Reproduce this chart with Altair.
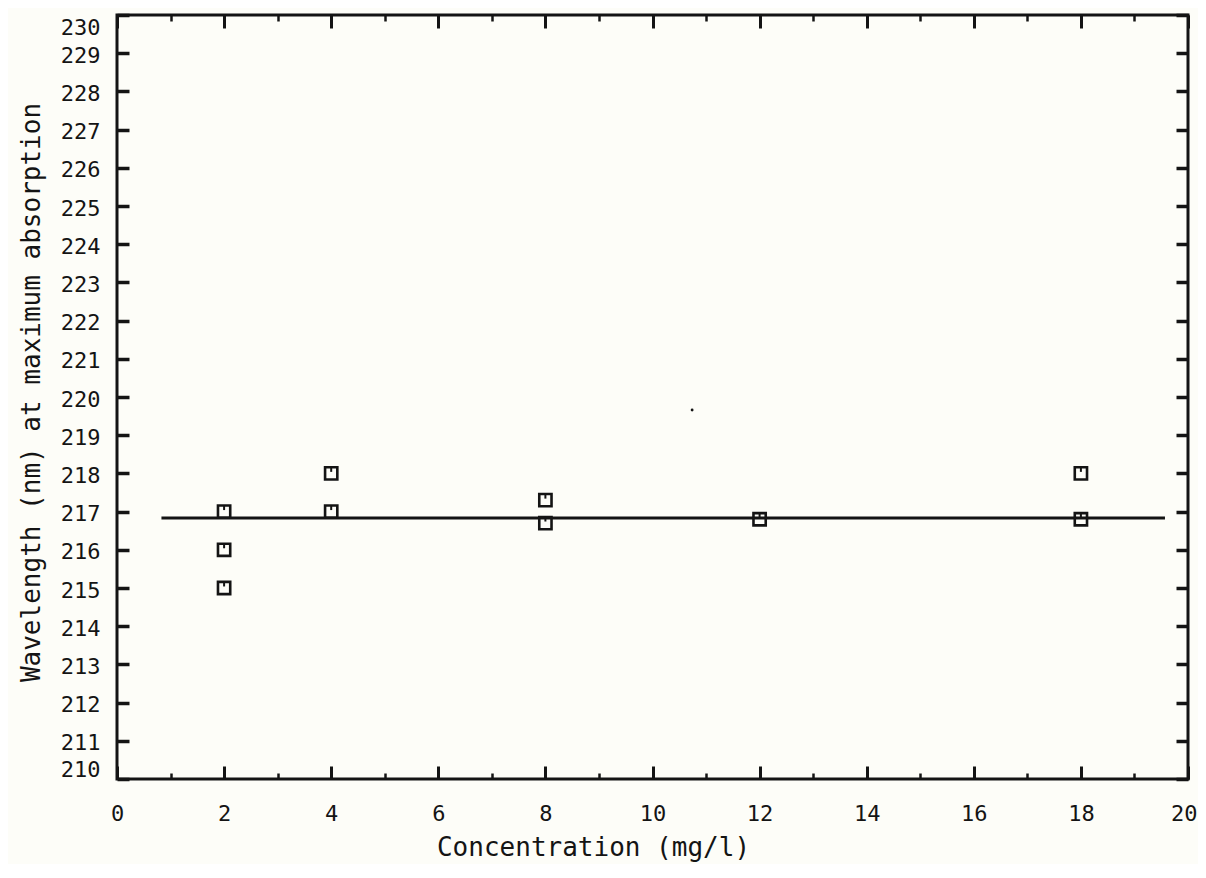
import altair as alt
import pandas as pd

# Data
conc = [2, 2, 2, 4, 4, 8, 8, 12, 18, 18]
wavelength = [217.0, 216.0, 215.0, 218.0, 217.0, 217.3, 216.7, 216.8, 218.0, 216.8]

fit_x = [0.83, 19.57]
fit_y = [216.83, 216.83]

speck_x = [10.74]
speck_y = [219.66]

x_major = [0, 2, 4, 6, 8, 10, 12, 14, 16, 18, 20]
x_minor = [1, 3, 5, 7, 9, 11, 13, 15, 17, 19, 20]
y_major = list(range(210, 231))

pts = pd.DataFrame({"c": conc, "w": wavelength})
fit = pd.DataFrame({"c": fit_x, "w": fit_y})
speck = pd.DataFrame({"c": speck_x, "w": speck_y})

INK = "#141414"
FONT = "DejaVu Sans Mono"
xs = alt.Scale(domain=[0, 20], nice=False, zero=False)
ys = alt.Scale(domain=[210, 230], nice=False, zero=False)

common = dict(domain=False, grid=False, tickColor=INK, labelColor=INK, titleColor=INK,
              labelFont=FONT, titleFont=FONT, labelFontSize=22, titleFontSize=26,
              titleFontWeight="normal")

ax_bottom = alt.Axis(orient="bottom", values=x_major, offset=-13, tickSize=13, tickWidth=3,
                     labelPadding=24, labelFlush=False, labelOverlap=False,
                     labelExpr="datum.value == 20 ? '' : datum.label",
                     title="Concentration (mg/l)", titlePadding=10, titleX=476, **common)
ax_bottom_minor = alt.Axis(orient="bottom", values=x_minor, offset=-6, tickSize=6, tickWidth=2.5,
                           labelPadding=24, labelFlush=False, labelOverlap=False,
                           labelExpr="datum.value == 20 ? '20' : ''",
                           labelAlign="right", labelOffset=9, title=None, **common)
ax_top = alt.Axis(orient="top", values=x_major, offset=-13, tickSize=13, tickWidth=3,
                  labels=False, title=None, **common)
ax_top_minor = alt.Axis(orient="top", values=x_minor, offset=-6, tickSize=6, tickWidth=2.5,
                        labels=False, title=None, **common)
ax_left = alt.Axis(orient="left", values=y_major, offset=-12, tickSize=12, tickWidth=3.5,
                   labelPadding=17, labelFlush=True, labelFlushOffset=0, labelOffset=2,
                   labelOverlap=False,
                   title="Wavelength (nm) at maximum absorption", titlePadding=16, titleY=377,
                   **common)
ax_right = alt.Axis(orient="right", values=y_major, offset=-12, tickSize=12, tickWidth=3.5,
                    labels=False, title=None, **common)

line = alt.Chart(fit).mark_line(color=INK, strokeWidth=3).encode(
    x=alt.X("c:Q", scale=xs, axis=ax_bottom),
    y=alt.Y("w:Q", scale=ys, axis=ax_left),
)

squares = alt.Chart(pts).mark_point(shape="square", size=150, filled=False, color=INK,
                                    strokeWidth=2.6, opacity=1).encode(
    x=alt.X("c:Q", scale=xs, axis=ax_bottom_minor),
    y=alt.Y("w:Q", scale=ys, axis=ax_right),
)

notches = alt.Chart(pts).mark_point(shape="M0,-1L0,-0.25", size=150, filled=False, color=INK,
                                    strokeWidth=2, opacity=1).encode(
    x=alt.X("c:Q", scale=xs, axis=ax_top),
    y=alt.Y("w:Q", scale=ys, axis=None),
)

dot = alt.Chart(speck).mark_point(shape="circle", size=8, filled=True, color=INK, opacity=1).encode(
    x=alt.X("c:Q", scale=xs, axis=ax_top_minor),
    y=alt.Y("w:Q", scale=ys, axis=None),
)

chart = alt.layer(line, squares, notches, dot).resolve_axis(
    x="independent", y="independent"
).properties(
    width=1071, height=764,
    autosize=alt.AutoSizeParams(type="none"),
    padding={"left": 109, "top": 7, "right": 10, "bottom": 85},
    background="#fdfdf8",
).configure_view(stroke=INK, strokeWidth=3)

chart.save("out.html", embed_options={"renderer": "svg", "actions": False})
